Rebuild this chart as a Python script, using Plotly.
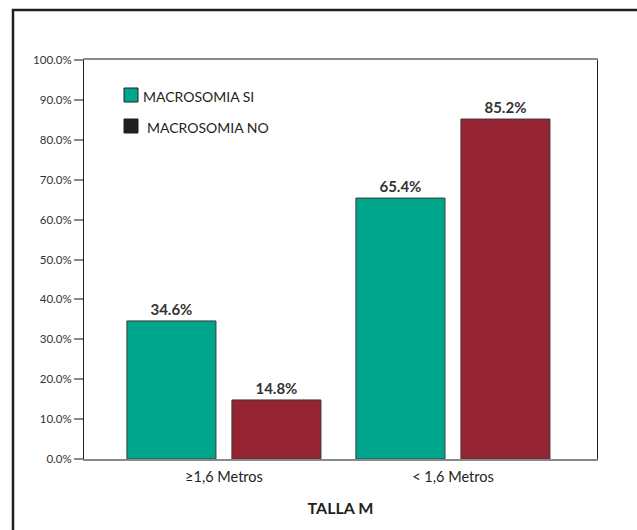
import plotly.graph_objects as go

# Data
categories = ["≥1,6 Metros", "< 1,6 Metros"]
series_names = ["MACROSOMIA SI", "MACROSOMIA NO"]
macrosomia_si = [34.6, 65.4]
macrosomia_no = [14.8, 85.2]
y_ticks = [0, 10, 20, 30, 40, 50, 60, 70, 80, 90, 100]

TEAL = "#00a68b"
WINE = "#952433"
DARK = "#231f20"
FONT = "Lato, 'Open Sans', sans-serif"

W, H = 637, 530
ML, MR, MT, MB = 84, 40, 60, 71
PW, PH = W - ML - MR, H - MT - MB


def px_x(x):
    return (x - ML) / PW


def px_y(y):
    return (H - MB - y) / PH


fig = go.Figure()
for name, vals, color in [(series_names[0], macrosomia_si, TEAL),
                          (series_names[1], macrosomia_no, WINE)]:
    fig.add_trace(go.Bar(
        x=categories, y=vals, name=name,
        marker=dict(color=color, line=dict(color="#3a3a3a", width=1)),
        text=[f"{v:.1f}%" for v in vals], textposition="outside",
        textfont=dict(family=FONT, size=15, color="#333333", weight="bold"),
        cliponaxis=False, showlegend=False,
    ))

# Legend drawn as boxes with labels
legend_boxes = [
    dict(x0=124, x1=138, y0=88, y1=102, fill=TEAL, tx=141, ty=96),
    dict(x0=124, x1=138, y0=119, y1=133, fill=DARK, tx=145, ty=127),
]
shapes = []
annotations = []
for name, b in zip(series_names, legend_boxes):
    shapes.append(dict(type="rect", xref="paper", yref="paper",
                       x0=px_x(b["x0"]), x1=px_x(b["x1"]),
                       y0=px_y(b["y1"]), y1=px_y(b["y0"]),
                       fillcolor=b["fill"], line=dict(color=DARK, width=1)))
    annotations.append(dict(xref="paper", yref="paper", x=px_x(b["tx"]), y=px_y(b["ty"]),
                            text=name, showarrow=False, xanchor="left", yanchor="middle",
                            font=dict(family=FONT, size=14, color="#231f20")))

# Outer frame around the figure
shapes.append(dict(type="rect", xref="paper", yref="paper",
                   x0=px_x(13), x1=px_x(645), y0=px_y(545), y1=px_y(10),
                   line=dict(color=DARK, width=2.5), fillcolor="rgba(0,0,0,0)"))

fig.update_layout(
    width=W, height=H,
    margin=dict(l=ML, r=MR, t=MT, b=MB),
    paper_bgcolor="white", plot_bgcolor="white",
    barmode="group", bargap=0.083, bargroupgap=0.152,
    font=dict(family=FONT, color="#333333"),
    shapes=shapes, annotations=annotations,
    xaxis=dict(
        range=[-0.611, 1.629],
        showline=True, mirror=True, linecolor="#8a8a8a", linewidth=1.5,
        ticks="", showgrid=False, ticklabelstandoff=4,
        tickfont=dict(family=FONT, size=14.5, color="#231f20"),
        title=dict(text="<b>TALLA M</b>", font=dict(family=FONT, size=16, color="#231f20"), standoff=19),
    ),
    yaxis=dict(
        range=[0, 100],
        tickvals=y_ticks, ticktext=[f"{v:.1f}%" for v in y_ticks],
        showline=True, mirror=True, linecolor=DARK, linewidth=1,
        ticks="outside", ticklen=9, tickcolor="#8a8a8a", tickwidth=1.5,
        showgrid=False, zeroline=False,
        tickfont=dict(family=FONT, size=11.5, color="#333333"),
    ),
)

fig.write_html("out.html")
